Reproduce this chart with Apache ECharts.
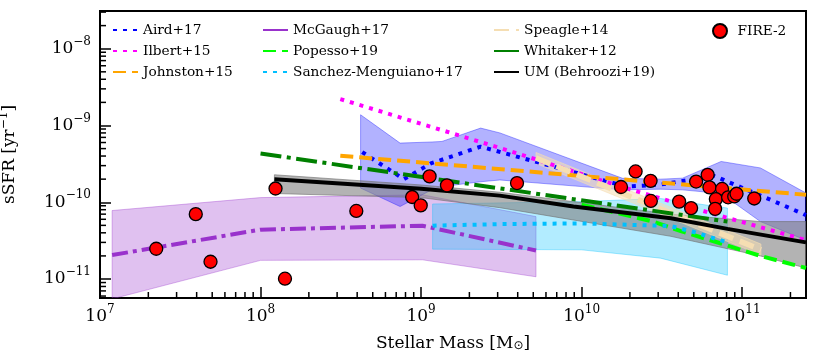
<!DOCTYPE html>
<html>
<head>
<meta charset="utf-8">
<script src="https://cdn.jsdelivr.net/npm/echarts@6.0.0/dist/echarts.min.js"></script>
<style>
html, body { margin: 0; padding: 0; background: #fff; }
#chart { width: 830px; height: 360px; }
#err { position: absolute; left: 0; top: 340px; font: 10px monospace; color: #c00; }
</style>
</head>
<body>
<div id="chart"></div>
<div id="err"></div>
<script>
function report(tag, e) { document.getElementById('err').textContent += tag + ': ' + (e && e.message) + ' | '; }
window.onerror = function (msg) { report('onerror', { message: msg }); };

// axis limits
const X_MIN = 1e7, X_MAX = 2.5e11;
const Y_MIN = 5.66e-12, Y_MAX = 3.1e-8;

// observational relations
const airdX = [4.3e8, 7.8e8, 1.15e9, 2.35e9, 1.9e10, 3.1e10, 6.7e10, 1.5e11, 2.5e11];
const airdY = [4.5e-10, 2.0e-10, 3.2e-10, 5.3e-10, 1.6e-10, 1.7e-10, 2.2e-10, 1.08e-10, 6.8e-11];
const airdBandX = [4.2e8, 7.4e8, 1.17e9, 1.35e9, 2.35e9, 3.1e9, 1.8e10, 3.1e10, 4.25e10, 7.4e10, 1.3e11, 2.5e11];
const airdBandLo = [1.53e-10, 8.8e-11, 1.46e-10, 1.6e-10, 1.85e-10, 1.95e-10, 1.45e-10, 1.48e-10, 1.45e-10, 1.3e-10, 5.6e-11, 3.2e-11];
const airdBandHi = [1.38e-9, 5.9e-10, 6.1e-10, 6.2e-10, 9.25e-10, 8.0e-10, 2.05e-10, 2.0e-10, 2.06e-10, 3.4e-10, 2.8e-10, 1.32e-10];

const ilbertX = [3.14e8, 3.1e9, 1.75e10, 5.5e10, 2.5e11];
const ilbertY = [2.21e-9, 5.1e-10, 1.6e-10, 7.9e-11, 3.2e-11];

const johnstonX = [3.14e8, 2.5e11];
const johnstonY = [4.04e-10, 1.25e-10];

const mcgaughX = [1.19e7, 1e8, 1.02e9, 5.2e9];
const mcgaughY = [2.05e-11, 4.4e-11, 4.95e-11, 2.35e-11];
const mcgaughBandX = [1.19e7, 1e8, 1.02e9, 5.2e9];
const mcgaughBandLo = [5.5e-12, 1.75e-11, 1.78e-11, 1.07e-11];
const mcgaughBandHi = [7.8e-11, 1.15e-10, 1.25e-10, 6.5e-11];

const popessoX = [1e10, 2.8e10, 4.15e10, 7.4e10, 1.3e11, 2.5e11];
const popessoY = [9.3e-11, 5.6e-11, 4.2e-11, 2.9e-11, 2.0e-11, 1.39e-11];

const sanchezX = [1.18e9, 3.1e9, 1e10, 3.6e10, 5e10, 8.1e10];
const sanchezY = [4.95e-11, 5.2e-11, 5.3e-11, 4.9e-11, 4.1e-11, 3.0e-11];
const sanchezBandX = [1.18e9, 1e10, 3.1e10, 8.1e10];
const sanchezBandLo = [2.45e-11, 2.4e-11, 1.87e-11, 1.12e-11];
const sanchezBandHi = [9.5e-11, 1.02e-10, 1.12e-10, 8.4e-11];

const speagleX = [5.2e9, 1.31e11];
const speagleY = [3.77e-10, 2.4e-11];
const speagleBandLo = [3.2e-10, 2.05e-11];
const speagleBandHi = [4.45e-10, 2.85e-11];

const whitakerX = [1e8, 8.1e10];
const whitakerY = [4.32e-10, 5.6e-11];

const umX = [1.22e8, 1e9, 3.1e9, 8.9e9, 3.6e10, 8.1e10, 2.5e11];
const umY = [2.0e-10, 1.5e-10, 1.22e-10, 8.8e-11, 6.2e-11, 4.5e-11, 3.0e-11];
const umBandX = [1.22e8, 1e9, 3.1e9, 3.6e10, 1.3e11, 2.5e11];
const umBandLo = [1.3e-10, 1.15e-10, 8.5e-11, 3.6e-11, 2.0e-11, 1.39e-11];
const umBandHi = [2.28e-10, 1.68e-10, 1.35e-10, 7.0e-11, 5.6e-11, 5.6e-11];

// FIRE-2 galaxies
const fireMass = [2.24e7, 3.95e7, 4.88e7, 1.24e8, 1.42e8, 3.95e8, 8.8e8, 9.95e8, 1.13e9, 1.45e9,
  3.96e9, 1.76e10, 2.17e10, 2.69e10, 2.7e10, 4.05e10, 4.81e10, 5.17e10, 6.1e10, 6.26e10,
  7.5e10, 6.86e10, 6.79e10, 8.18e10, 8.93e10, 9.23e10, 1.19e11];
const fireSSFR = [2.48e-11, 7.0e-11, 1.68e-11, 1.51e-10, 1.01e-11, 7.7e-11, 1.17e-10, 9.1e-11, 2.17e-10, 1.66e-10,
  1.78e-10, 1.58e-10, 2.52e-10, 1.9e-10, 1.04e-10, 1.02e-10, 8.4e-11, 1.86e-10, 2.28e-10, 1.56e-10,
  1.49e-10, 1.1e-10, 8.2e-11, 1.16e-10, 1.19e-10, 1.29e-10, 1.12e-10];

// tick positions
const xMajorTicks = [1e7, 1e8, 1e9, 1e10, 1e11];
const yMajorTicks = [1e-11, 1e-10, 1e-9, 1e-8];
const xMinorTicks = [];
for (let e = 7; e <= 11; e++) for (let m = 2; m <= 9; m++) { const v = m * Math.pow(10, e); if (v < X_MAX) xMinorTicks.push(v); }
const yMinorTicks = [];
for (let e = -12; e <= -8; e++) for (let m = 2; m <= 9; m++) { const v = m * Math.pow(10, e); if (v > Y_MIN && v < Y_MAX) yMinorTicks.push(v); }

const FONT = 'DejaVu Serif';
const zip = (xs, ys) => xs.map((x, i) => [x, ys[i]]);

function lineSeries(name, xs, ys, color, width, type) {
  return {
    type: 'line', name: name, data: zip(xs, ys), symbol: 'none', showSymbol: false,
    lineStyle: { color: color, width: width, type: type, cap: 'butt' },
    itemStyle: { color: color }, z: 3, silent: true, clip: true
  };
}

function bandSeries(xs, lo, hi, fill, stroke) {
  return {
    type: 'custom', silent: true, clip: true, z: 2,
    data: [[xs[0], hi[0]]],
    renderItem: function (params, api) {
      const pts = xs.map((x, i) => api.coord([x, hi[i]]));
      for (let i = xs.length - 1; i >= 0; i--) pts.push(api.coord([xs[i], lo[i]]));
      return {
        type: 'polygon', shape: { points: pts },
        style: { fill: fill, stroke: stroke, lineWidth: 1 }
      };
    }
  };
}

function powLabel(v) {
  const e = Math.log10(v);
  const r = Math.round(e);
  if (Math.abs(e - r) > 1e-6) return '';
  return '10{s|' + (r < 0 ? '\u2212' + (-r) : r) + '}';
}

const tickLabel = {
  formatter: powLabel, fontFamily: FONT, fontSize: 17, color: '#000', lineHeight: 26,
  rich: { s: { fontFamily: FONT, fontSize: 12, color: '#000', verticalAlign: 'top', lineHeight: 14 } }
};

function legendCol(left, items, extra) {
  return Object.assign({
    orient: 'vertical', left: left, top: 23, padding: 0, itemGap: 7,
    itemWidth: 25, itemHeight: 14, selectedMode: false,
    textStyle: { fontFamily: FONT, fontSize: 13.7, color: '#000', lineHeight: 14 },
    itemStyle: { opacity: 0 },
    data: items
  }, extra || {});
}

const chart = echarts.init(document.getElementById('chart'), null, { renderer: 'canvas' });
try {
  chart.setOption({
    animation: false,
    backgroundColor: '#fff',
    grid: {
      left: 100, right: 24, top: 11, bottom: 62, outerBoundsMode: 'none',
      show: true, borderColor: '#000', borderWidth: 2, backgroundColor: 'transparent'
    },
    legend: [
      legendCol(112, ['Aird+17', 'Ilbert+15', 'Johnston+15']),
      legendCol(262, [{ name: 'McGaugh+17', lineStyle: { type: 'solid' } }, 'Popesso+19', 'Sanchez-Menguiano+17']),
      legendCol(493, ['Speagle+14', { name: 'Whitaker+12', lineStyle: { type: 'solid' } }, 'UM (Behroozi+19)']),
      legendCol(712, ['FIRE-2'], { itemStyle: {} })
    ],
    xAxis: {
      type: 'log', logBase: 10, min: X_MIN, max: X_MAX,
      axisLine: { show: true, lineStyle: { color: '#000', width: 2 } },
      axisTick: { show: true, inside: true, length: 11, lineStyle: { color: '#000', width: 1.5 } },
      splitLine: { show: false },
      axisLabel: Object.assign({ margin: 6 }, tickLabel),
      name: 'Stellar Mass [M{sub|\u2299}]', nameLocation: 'middle', nameGap: 34,
      nameTextStyle: {
        fontFamily: FONT, fontSize: 17, color: '#000',
        rich: { sub: { fontFamily: 'DejaVu Sans', fontSize: 12, color: '#000', verticalAlign: 'bottom', lineHeight: 14 } }
      }
    },
    yAxis: {
      type: 'log', logBase: 10, min: Y_MIN, max: Y_MAX,
      axisLine: { show: true, lineStyle: { color: '#000', width: 2 } },
      axisTick: { show: true, inside: true, length: 11, lineStyle: { color: '#000', width: 1.5 } },
      splitLine: { show: false },
      axisLabel: Object.assign({ margin: 9 }, tickLabel),
      name: 'sSFR [yr{s|\u22121}]', nameLocation: 'middle', nameGap: 78,
      nameTextStyle: {
        fontFamily: FONT, fontSize: 17, color: '#000', lineHeight: 24,
        rich: { s: { fontFamily: FONT, fontSize: 12, color: '#000', verticalAlign: 'top', lineHeight: 14 } }
      }
    },
    series: [
      bandSeries(mcgaughBandX, mcgaughBandLo, mcgaughBandHi, 'rgba(153,50,204,0.3)', 'rgba(153,50,204,0.35)'),
      bandSeries(sanchezBandX, sanchezBandLo, sanchezBandHi, 'rgba(0,191,255,0.3)', 'rgba(0,191,255,0.35)'),
      bandSeries(airdBandX, airdBandLo, airdBandHi, 'rgba(0,0,255,0.3)', 'rgba(0,0,255,0.35)'),
      bandSeries(umBandX, umBandLo, umBandHi, 'rgba(128,128,128,0.6)', 'rgba(110,110,110,0.6)'),
      bandSeries(speagleX, speagleBandLo, speagleBandHi, 'rgba(245,222,179,0.55)', 'rgba(245,222,179,0.6)'),
      lineSeries('Aird+17', airdX, airdY, '#0000ff', 4, [4, 6]),
      lineSeries('Ilbert+15', ilbertX, ilbertY, '#ff00ff', 4, [4, 6]),
      lineSeries('Johnston+15', johnstonX, johnstonY, '#ffa500', 4, [13, 6]),
      lineSeries('McGaugh+17', mcgaughX, mcgaughY, '#9932cc', 4, [16, 5, 4, 5]),
      lineSeries('Popesso+19', popessoX, popessoY, '#00ff00', 4, [13, 6]),
      lineSeries('Sanchez-Menguiano+17', sanchezX, sanchezY, '#00bfff', 4, [4, 6]),
      lineSeries('Speagle+14', speagleX, speagleY, '#f5deb3', 5.5, [15, 7]),
      lineSeries('Whitaker+12', whitakerX, whitakerY, '#008000', 4, [21, 5.5, 4, 5.5]),
      lineSeries('UM (Behroozi+19)', umX, umY, '#000000', 4, 'solid'),
      {
        type: 'scatter', name: 'FIRE-2', data: zip(fireMass, fireSSFR), symbol: 'circle', symbolSize: 13,
        itemStyle: { color: '#ff0000', borderColor: '#000', borderWidth: 1.3, opacity: 1 }, z: 5, silent: true
      }
    ]
  });
} catch (e) { report('main', e); }

// inward minor ticks, placed through the axis scales
try {
  const x0 = chart.convertToPixel({ xAxisIndex: 0 }, X_MIN);
  const yBottom = chart.convertToPixel({ yAxisIndex: 0 }, Y_MIN);
  const TW = 1.5;
  const tickEls = [];
  xMinorTicks.forEach(v => {
    const x = chart.convertToPixel({ xAxisIndex: 0 }, v);
    tickEls.push({ type: 'rect', z: 50, silent: true, shape: { x: x - TW / 2, y: yBottom - 6, width: TW, height: 6 }, style: { fill: '#000' } });
  });
  yMinorTicks.forEach(v => {
    const y = chart.convertToPixel({ yAxisIndex: 0 }, v);
    tickEls.push({ type: 'rect', z: 50, silent: true, shape: { x: x0, y: y - TW / 2, width: 6, height: TW }, style: { fill: '#000' } });
  });
  chart.setOption({ graphic: { elements: tickEls } });
} catch (e) { report('ticks', e); }
</script>
</body>
</html>
